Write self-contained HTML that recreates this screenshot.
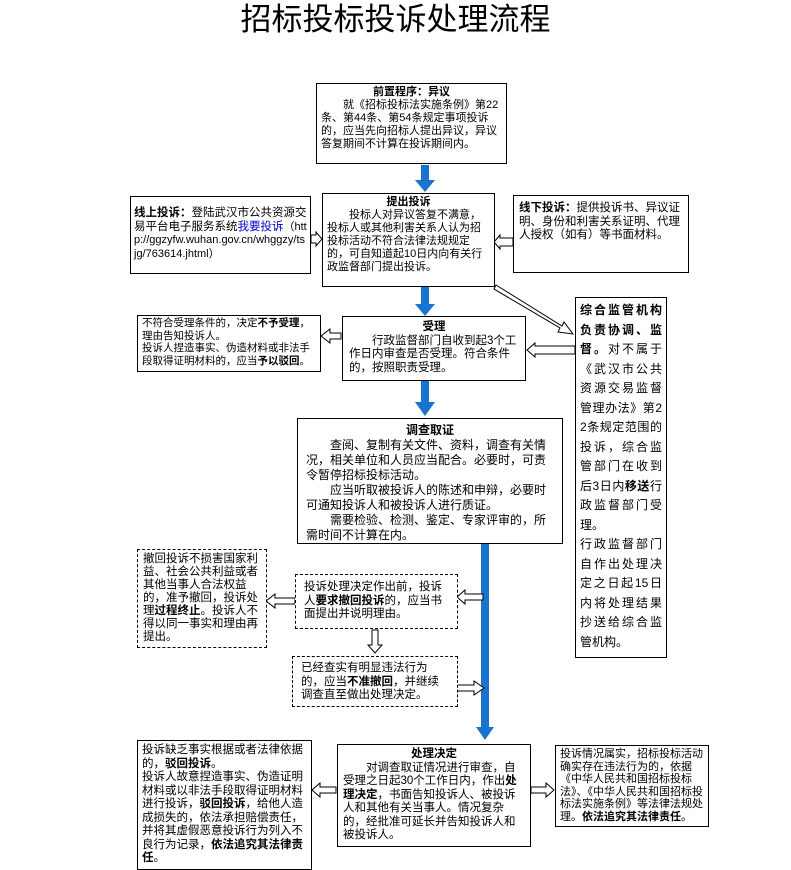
<!DOCTYPE html>
<html><head><meta charset="utf-8"><style>
body{margin:0;width:791px;height:865px;overflow:hidden;background:#fff;position:relative;font-family:"Liberation Sans","Noto Sans CJK SC",sans-serif;color:#000}
.b{position:absolute;border:1.5px solid #000;box-sizing:border-box;font-size:11.5px;line-height:13.5px;padding:3px 4px;background:#fff;word-break:break-all;overflow:hidden}
.d{border:1.5px dashed #000}
.t{text-align:center;font-weight:bold}
.i{text-indent:2em}
b{font-weight:bold}
svg{position:absolute;left:0;top:0}
</style></head><body>
<div style="position:absolute;left:0;width:791px;top:0px;text-align:center;font-size:31px;line-height:40px">招标投标投诉处理流程</div>

<svg width="791" height="865">
<g fill="#1874cd">
<rect x="421" y="165" width="8" height="16"/><polygon points="415,180 435,180 425,192"/>
<rect x="421" y="287" width="8" height="18"/><polygon points="415,304 435,304 425,316"/>
<rect x="421" y="381" width="8" height="22"/><polygon points="415,402 435,402 425,416"/>
<rect x="481" y="543" width="8" height="186"/><polygon points="476,727 494,727 485,740"/>
</g>
<g fill="#fff" stroke="#000" stroke-width="1">
<polygon points="311,235 316,235 316,232 322,239 316,246 316,243 311,243"/>
<polygon points="513,238 500,238 500,235 494,242 500,249 500,246 513,246"/>
<polygon points="575,346 535,346 535,343 527,350 535,357 535,354 575,354"/>
<polygon points="341,333 330,333 330,329 321,336 330,343 330,339 341,339"/>
<polygon points="496,285 562,326 564,322 573,334 558,332 560,328 494,289"/>
<polygon points="483,594 465,594 465,590 457,597 465,604 465,600 483,600"/>
<polygon points="295,598 275,598 275,594 266,601 275,608 275,604 295,604"/>
<polygon points="372,630 378,630 378,645 382,645 375,653 368,645 372,645"/>
<polygon points="457,685 474,685 474,681 484,688 474,695 474,691 457,691"/>
<polygon points="336,787 320,787 320,783 312,790 320,797 320,793 336,793"/>
<polygon points="531,787 546,787 546,783 554,790 546,797 546,793 531,793"/>
</g>
</svg>

<div class="b" style="left:316px;top:83px;width:191px;height:81px;padding:2px 4px;font-size:11px;line-height:13px">
<div class="t">前置程序：异议</div>
<div class="i">就《招标投标法实施条例》第22条、第44条、第54条规定事项投诉的，应当先向招标人提出异议，异议答复期间不计算在投诉期间内。</div></div>

<div class="b" style="left:130px;top:196px;width:181px;height:78px;padding:10px 3px 3px"><b>线上投诉：</b>登陆武汉市公共资源交易平台电子服务系统<span style="color:#00c">我要投诉</span><span style="font-size:11px">（http://ggzyfw.wuhan.gov.cn/whggzy/tsjg/763614.jhtml）</span></div>

<div class="b" style="left:322px;top:193px;width:173px;height:94px;padding:2px 4px;font-size:11px;line-height:13px">
<div class="t">提出投诉</div>
<div class="i">投标人对异议答复不满意，投标人或其他利害关系人认为招投标活动不符合法律法规规定的，可自知道起10日内向有关行政监督部门提出投诉。</div></div>

<div class="b" style="left:513px;top:195px;width:176px;height:78px;padding:6px 5px"><b>线下投诉：</b>提供投诉书、异议证明、身份和利害关系证明、代理人授权（如有）等书面材料。</div>

<div class="b" style="left:137px;top:315px;width:184px;height:57px;padding:1px 4px;font-size:10.5px;line-height:12.5px"><div>不符合受理条件的，决定<b>不予受理</b>，理由告知投诉人。</div><div>投诉人捏造事实、伪造材料或非法手段取得证明材料的，应当<b>予以驳回</b>。</div></div>

<div class="b" style="left:342px;top:316px;width:184px;height:65px;padding:4px 6px">
<div class="t">受理</div><div class="i">行政监督部门自收到起3个工作日内审查是否受理。符合条件的，按照职责受理。</div></div>

<div class="b" style="left:575px;top:297px;width:92px;height:361px;padding:3px 4px;text-align:justify;line-height:19.5px;font-size:12px"><b>综合监管机构负责协调、监督。</b>对不属于《武汉市公共资源交易监督管理办法》第22条规定范围的投诉，综合监管部门在收到后3日内<b>移送</b>行政监督部门受理。<br>行政监督部门自作出处理决定之日起15日内将处理结果抄送给综合监管机构。</div>

<div class="b" style="left:297px;top:418px;width:266px;height:126px;padding:4px 8px;line-height:15px;font-size:12px">
<div class="t">调查取证</div>
<div class="i">查阅、复制有关文件、资料，调查有关情况，相关单位和人员应当配合。必要时，可责令暂停招标投标活动。</div>
<div class="i">应当听取被投诉人的陈述和申辩，必要时可通知投诉人和被投诉人进行质证。</div>
<div class="i">需要检验、检测、鉴定、专家评审的，所需时间不计算在内。</div></div>

<div class="b d" style="left:137px;top:549px;width:130px;height:99px;padding:3px 5px;line-height:13px">撤回投诉不损害国家利益、社会公共利益或者其他当事人合法权益的，准予撤回，投诉处理<b>过程终止</b>。投诉人不得以同一事实和理由再提出。</div>

<div class="b d" style="left:295px;top:574px;width:163px;height:55px;padding:6px 8px">投诉处理决定作出前，投诉人<b>要求撤回投诉</b>的，应当书面提出并说明理由。</div>

<div class="b d" style="left:292px;top:656px;width:166px;height:51px;padding:5px 8px">已经查实有明显违法行为的，应当<b>不准撤回</b>，并继续调查直至做出处理决定。</div>

<div class="b" style="left:137px;top:740px;width:175px;height:130px;padding:3px 4px;line-height:13.5px">投诉缺乏事实根据或者法律依据的，<b>驳回投诉</b>。<br>投诉人故意捏造事实、伪造证明材料或以非法手段取得证明材料进行投诉，<b>驳回投诉</b>，给他人造成损失的，依法承担赔偿责任，并将其虚假恶意投诉行为列入不良行为记录，<b>依法追究其法律责任</b>。</div>

<div class="b" style="left:337px;top:744px;width:194px;height:103px;padding:3px 5px;line-height:13.5px">
<div class="t">处理决定</div><div class="i">对调查取证情况进行审查，自受理之日起30个工作日内，作出<b>处理决定</b>，书面告知投诉人、被投诉人和其他有关当事人。情况复杂的，经批准可延长并告知投诉人和被投诉人。</div></div>

<div class="b" style="left:555px;top:745px;width:154px;height:82px;padding:2px 4px;line-height:12.5px;font-size:11px">投诉情况属实，招标投标活动确实存在违法行为的，依据《中华人民共和国招标投标法》、《中华人民共和国招标投标法实施条例》等法律法规处理。<b>依法追究其法律责任</b>。</div>
</body></html>
